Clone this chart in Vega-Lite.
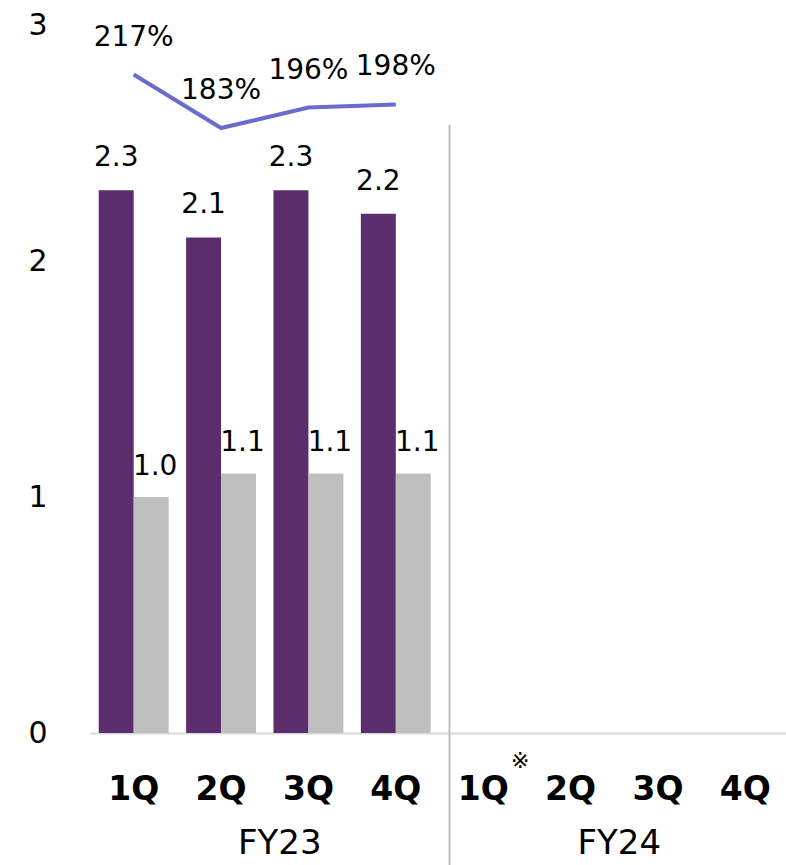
{
  "$schema": "https://vega.github.io/schema/vega-lite/v6.json",
  "width": 699,
  "height": 708,
  "autosize": {"type": "none"},
  "padding": {"left": 90, "top": 25, "right": 0, "bottom": 132},
  "background": "white",
  "config": {
    "view": {"stroke": null},
    "font": "DejaVu Sans",
    "text": {"font": "DejaVu Sans", "color": "#000000"}
  },
  "datasets": {
    "bars": [
      {"q": "FY23 1Q", "series": "A", "value": 2.3},
      {"q": "FY23 1Q", "series": "B", "value": 1.0},
      {"q": "FY23 2Q", "series": "A", "value": 2.1},
      {"q": "FY23 2Q", "series": "B", "value": 1.1},
      {"q": "FY23 3Q", "series": "A", "value": 2.3},
      {"q": "FY23 3Q", "series": "B", "value": 1.1},
      {"q": "FY23 4Q", "series": "A", "value": 2.2},
      {"q": "FY23 4Q", "series": "B", "value": 1.1}
    ],
    "ratio": [
      {"q": "FY23 1Q", "ratio": 2.17},
      {"q": "FY23 2Q", "ratio": 1.83},
      {"q": "FY23 3Q", "ratio": 1.96},
      {"q": "FY23 4Q", "ratio": 1.98}
    ],
    "sep": [{"fy": "FY24", "top": 2.576, "bottom": -0.6}],
    "note": [{"q": "FY24 1Q", "note": "※"}]
  },
  "layer": [
    {
      "layer": [
        {
          "layer": [
            {
              "data": {"name": "bars"},
              "mark": {"type": "bar"},
              "encoding": {
                "x": {
                  "field": "q", "type": "nominal",
                  "scale": {"domain": ["FY23 1Q","FY23 2Q","FY23 3Q","FY23 4Q","FY24 1Q","FY24 2Q","FY24 3Q","FY24 4Q"], "paddingInner": 0.2, "paddingOuter": 0.1},
                  "axis": {
                    "title": null, "orient": "bottom", "labelAngle": 0,
                    "labelExpr": "split(datum.value, ' ')[1]",
                    "labelFont": "DejaVu Sans", "labelFontSize": 33, "labelFontWeight": "bold", "labelColor": "#000000",
                    "labelBaseline": "alphabetic", "labelPadding": 66,
                    "ticks": false, "tickSize": 0, "grid": false,
                    "domainColor": "#D9D9D9", "domainWidth": 2
                  }
                },
                "xOffset": {"field": "series", "type": "nominal", "scale": {"domain": ["A","B"], "paddingInner": 0, "paddingOuter": 0}},
                "y": {
                  "field": "value", "type": "quantitative",
                  "scale": {"domain": [0, 3], "nice": false},
                  "axis": {
                    "title": null, "values": [0,1,2,3], "format": "d", "domain": false, "ticks": false, "tickSize": 0, "grid": false,
                    "labelFont": "DejaVu Sans", "labelFontSize": 30, "labelColor": "#000000", "labelPadding": 43
                  }
                },
                "color": {"field": "series", "type": "nominal", "scale": {"domain": ["A","B"], "range": ["#5C2D6C", "#BFBFBF"]}, "legend": null}
              }
            },
            {
              "data": {"name": "bars"},
              "transform": [{"filter": "datum.series == 'A'"}],
              "mark": {"type": "text", "fontSize": 28, "baseline": "alphabetic", "dy": -24},
              "encoding": {
                "x": {"field": "q", "type": "nominal"},
                "xOffset": {"field": "series", "type": "nominal"},
                "y": {"field": "value", "type": "quantitative"},
                "text": {"field": "value", "type": "quantitative", "format": ".1f"}
              }
            },
            {
              "data": {"name": "bars"},
              "transform": [{"filter": "datum.series == 'B'"}],
              "mark": {"type": "text", "fontSize": 28, "baseline": "alphabetic", "dy": -22, "dx": 4},
              "encoding": {
                "x": {"field": "q", "type": "nominal"},
                "xOffset": {"field": "series", "type": "nominal"},
                "y": {"field": "value", "type": "quantitative"},
                "text": {"field": "value", "type": "quantitative", "format": ".1f"}
              }
            },
            {
              "data": {"name": "note"},
              "mark": {"type": "text", "fontSize": 22, "baseline": "middle", "dx": 37, "dy": 28},
              "encoding": {
                "x": {"field": "q", "type": "nominal"},
                "y": {"datum": 0, "type": "quantitative"},
                "text": {"field": "note", "type": "nominal"}
              }
            }
          ]
        },
        {
          "layer": [
            {
              "data": {"name": "ratio"},
              "mark": {"type": "line", "color": "#6A6ACF", "strokeWidth": 4},
              "encoding": {
                "x": {"field": "q", "type": "nominal"},
                "y": {"field": "ratio", "type": "quantitative", "scale": {"domain": [-2.015, 2.485], "nice": false, "zero": false}, "axis": null}
              }
            },
            {
              "data": {"name": "ratio"},
              "mark": {"type": "text", "fontSize": 28, "baseline": "alphabetic", "dy": -29},
              "encoding": {
                "x": {"field": "q", "type": "nominal"},
                "y": {"field": "ratio", "type": "quantitative"},
                "text": {"field": "ratio", "type": "quantitative", "format": ".0%"}
              }
            }
          ]
        }
      ],
      "resolve": {"scale": {"y": "independent"}, "axis": {"y": "independent"}}
    },
    {
      "data": {"name": "sep"},
      "mark": {"type": "rule", "color": "#BFBFBF", "strokeWidth": 2},
      "encoding": {
        "x": {
          "field": "fy", "type": "nominal", "bandPosition": 0,
          "scale": {"domain": ["FY23", "FY24"], "range": [20, 699], "paddingInner": 0, "paddingOuter": 0},
          "axis": {
            "title": null, "orient": "bottom", "labelAngle": 0, "domain": false, "ticks": false, "tickSize": 0, "grid": false,
            "labelFont": "DejaVu Sans", "labelFontSize": 34, "labelColor": "#000000",
            "labelBaseline": "alphabetic", "labelPadding": 120
          }
        },
        "y": {"field": "top", "type": "quantitative", "scale": {"domain": [0, 3], "nice": false}, "axis": null},
        "y2": {"field": "bottom"}
      }
    }
  ],
  "resolve": {"scale": {"x": "independent", "y": "independent"}, "axis": {"x": "independent", "y": "independent"}}
}
